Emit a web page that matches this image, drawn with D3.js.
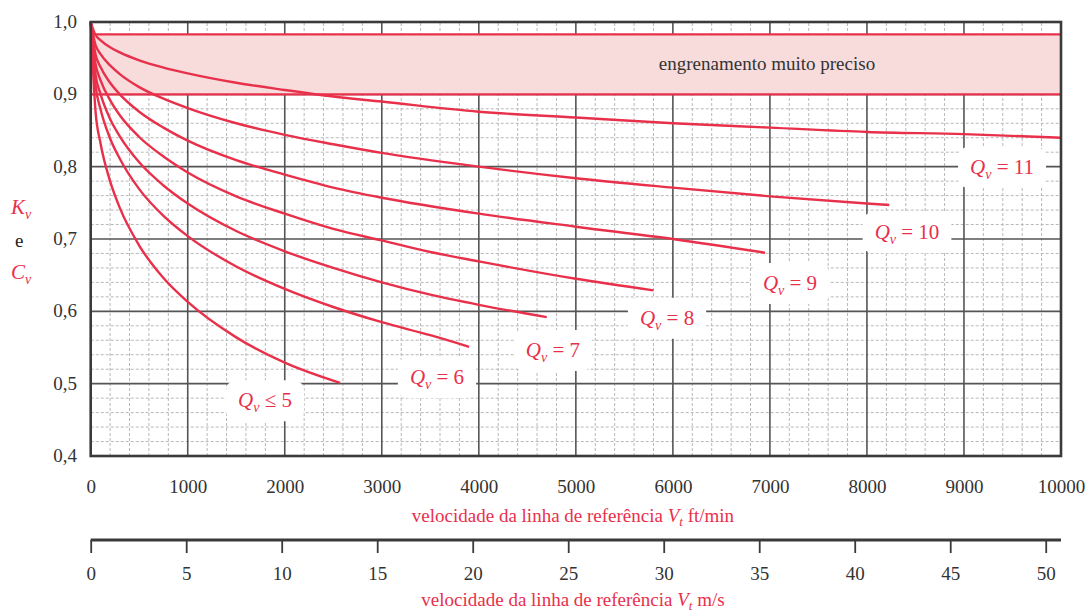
<!DOCTYPE html>
<html><head><meta charset="utf-8">
<script src="https://cdn.jsdelivr.net/npm/d3@7"></script>
<style>
body{margin:0;background:#fff;}
svg text{font-family:"Liberation Serif","DejaVu Serif","Times New Roman",serif !important;}
</style></head>
<body><svg id="c" width="1089" height="613" font-family="Liberation Serif, DejaVu Serif, serif"></svg>
<script>
// ---- data ----
const xTicksFt = [0,1000,2000,3000,4000,5000,6000,7000,8000,9000,10000];
const xTicksMs = [0,5,10,15,20,25,30,35,40,45,50];
const yTicks = [0.4,0.5,0.6,0.7,0.8,0.9,1.0];
const yTickLabels = ["0,4","0,5","0,6","0,7","0,8","0,9","1,0"];
const qualities = ["≤ 5","= 6","= 7","= 8","= 9","= 10","= 11"];
const vQ5  = [0,50,100,200,300,500,750,1000,1500,2000,2570];
const kQ5  = [1.0,0.876,0.833,0.780,0.743,0.691,0.646,0.613,0.564,0.529,0.501];
const vQ6  = [0,50,100,200,300,500,750,1000,1500,2000,2500,3000,3500,3900];
const kQ6  = [1.0,0.912,0.880,0.839,0.811,0.769,0.732,0.704,0.662,0.631,0.606,0.585,0.567,0.551];
const vQ7  = [0,50,100,200,300,500,750,1000,1500,2000,2500,3000,3500,4000,4700];
const kQ7  = [1.0,0.927,0.901,0.866,0.842,0.806,0.774,0.749,0.711,0.683,0.660,0.640,0.623,0.609,0.592];
const vQ8  = [0,50,100,200,300,500,750,1000,1500,2000,2500,3000,3500,4000,5000,5800];
const kQ8  = [1.0,0.942,0.920,0.892,0.871,0.841,0.814,0.792,0.759,0.735,0.714,0.698,0.682,0.669,0.645,0.629];
const vQ9  = [0,50,100,200,300,500,750,1000,1500,2000,2500,3000,4000,5000,6000,6950];
const kQ9  = [1.0,0.955,0.938,0.916,0.900,0.876,0.854,0.836,0.809,0.789,0.771,0.757,0.735,0.717,0.700,0.681];
const vQ10 = [0,50,100,200,300,500,750,1000,1500,2000,2500,3000,4000,5000,6000,7000,8000,8230];
const kQ10 = [1.0,0.968,0.956,0.940,0.928,0.910,0.894,0.881,0.860,0.844,0.831,0.819,0.800,0.784,0.771,0.759,0.749,0.747];
const vQ11 = [0,50,100,200,300,500,750,1000,1500,2000,2500,3000,4000,5000,6000,7000,8000,9000,10000];
const kQ11 = [1.0,0.982,0.975,0.965,0.958,0.947,0.937,0.929,0.916,0.906,0.897,0.890,0.876,0.868,0.860,0.854,0.848,0.845,0.840];
const bandRange = [0.9, 0.983];
const bandLabel = "engrenamento muito preciso";
// label anchors in data units (ft/min, K)
const labelV = [1796,3569,4764,5940,7207,8413,9392];
const labelK = [0.477,0.509,0.5465,0.591,0.639,0.7095,0.7995];

const curves = [[vQ5,kQ5],[vQ6,kQ6],[vQ7,kQ7],[vQ8,kQ8],[vQ9,kQ9],[vQ10,kQ10],[vQ11,kQ11]];

// ---- drawing ----
const RED = "#e8304b", DARK = "#3a3a3a", SERIF = "Liberation Serif, DejaVu Serif, serif";
const svg = d3.select("#c");
const x = d3.scaleLinear().domain([0,10000]).range([90.7,1061]);
const y = d3.scaleLinear().domain([0.4,1.0]).range([456,22]);
const xMs = d3.scaleLinear().domain([0,10000/196.85]).range([90.7,1061]);

// minor grid
const g = svg.append("g");
g.selectAll("line.mx").data(d3.range(0,10001,200).filter(v=>v%1000!==0)).join("line")
  .attr("x1",d=>x(d)).attr("x2",d=>x(d)).attr("y1",y(0.4)).attr("y2",y(1.0))
  .attr("stroke","#b8b8b8").attr("stroke-width",1).attr("stroke-dasharray","3,2");
g.selectAll("line.my").data(d3.range(0,31).map(i=>0.4+i*0.02).filter((v,i)=>i%5!==0)).join("line")
  .attr("y1",d=>y(d)).attr("y2",d=>y(d)).attr("x1",x(0)).attr("x2",x(10000))
  .attr("stroke","#b8b8b8").attr("stroke-width",1).attr("stroke-dasharray","3,2");
// major grid
g.selectAll("line.Mx").data(xTicksFt.slice(1,-1)).join("line")
  .attr("x1",d=>x(d)).attr("x2",d=>x(d)).attr("y1",y(0.4)).attr("y2",y(1.0))
  .attr("stroke","#555").attr("stroke-width",1.6);
g.selectAll("line.My").data(yTicks.slice(1,-1)).join("line")
  .attr("y1",d=>y(d)).attr("y2",d=>y(d)).attr("x1",x(0)).attr("x2",x(10000))
  .attr("stroke","#555").attr("stroke-width",1.6);

// band
svg.append("rect").attr("x",x(0)).attr("width",x(10000)-x(0))
  .attr("y",y(bandRange[1])).attr("height",y(bandRange[0])-y(bandRange[1]))
  .attr("fill","#f7dcdb");
bandRange.forEach(b=>svg.append("line").attr("x1",x(0)).attr("x2",x(10000))
  .attr("y1",y(b)).attr("y2",y(b)).attr("stroke",RED).attr("stroke-width",2.2));
svg.append("text").attr("x",x(6970)).attr("y",y(0.9415)+6).attr("text-anchor","middle")
  .attr("font-family",SERIF).attr("font-size",19).attr("fill","#333").text(bandLabel);

// label knockouts + text
const labG = svg.append("g");
const labels = qualities.map((q,i)=>({q, vx:x(labelV[i]), vy:y(labelK[i])}));
labels.forEach(L=>{
  const t = labG.append("text").attr("x",L.vx).attr("y",L.vy+7).attr("text-anchor","middle")
    .attr("font-family",SERIF).attr("font-size",21).attr("fill",RED);
  t.append("tspan").attr("font-style","italic").text("Q");
  t.append("tspan").attr("font-style","italic").attr("font-size",14).attr("dy",5).text("v");
  t.append("tspan").attr("dy",-5).text(" "+L.q);
  const bb = t.node().getBBox();
  labG.insert("rect","text").attr("x",bb.x-12).attr("y",bb.y-8).attr("width",bb.width+24)
    .attr("height",bb.height+14).attr("rx",10).attr("fill","#fff");
});

// curves
const line = d3.line().x(d=>x(d[0])).y(d=>y(d[1])).curve(d3.curveMonotoneX);
svg.append("g").selectAll("path").data(curves).join("path")
  .attr("d",c=>line(c[0].map((v,i)=>[v,c[1][i]])))
  .attr("fill","none").attr("stroke",RED).attr("stroke-width",2.4);
svg.node().appendChild(labG.node());

// frame
svg.append("rect").attr("x",x(0)).attr("y",y(1.0)).attr("width",x(10000)-x(0))
  .attr("height",y(0.4)-y(1.0)).attr("fill","none").attr("stroke",DARK).attr("stroke-width",2.6);

// y ticks
svg.append("g").selectAll("text").data(yTicks).join("text")
  .attr("x",77).attr("y",d=>y(d)+6).attr("text-anchor","end").attr("font-family",SERIF)
  .attr("font-size",19).attr("fill","#333")
  .text((d,i)=>yTickLabels[i]);
// x ft/min ticks
const xAx = svg.append("g").attr("transform",`translate(0,${y(0.4)})`)
  .call(d3.axisBottom(x).tickValues(xTicksFt).tickSize(0).tickPadding(24).tickFormat(d3.format("d")));
xAx.select(".domain").remove();
xAx.selectAll("text").attr("font-size",19).attr("fill","#333").attr("font-family",SERIF);

// y title
const yt = svg.append("g").attr("fill",RED).attr("font-size",21).attr("font-family",SERIF);
const kv = yt.append("text").attr("x",11).attr("y",214).attr("font-style","italic");
kv.append("tspan").text("K"); kv.append("tspan").attr("font-size",14).attr("dy",5).text("v");
yt.append("text").attr("x",15).attr("y",247).attr("fill","#222").attr("font-size",19).text("e");
const cv = yt.append("text").attr("x",11).attr("y",279).attr("font-style","italic");
cv.append("tspan").text("C"); cv.append("tspan").attr("font-size",14).attr("dy",5).text("v");

function title(ypos, unit){
  const t = svg.append("text").attr("x",573).attr("y",ypos).attr("text-anchor","middle")
    .attr("font-family",SERIF).attr("font-size",19).attr("fill",RED);
  t.append("tspan").text("velocidade da linha de referência ");
  t.append("tspan").attr("font-style","italic").text("V");
  t.append("tspan").attr("font-style","italic").attr("font-size",13).attr("dy",4).text("t");
  t.append("tspan").attr("dy",-4).text(" "+unit);
}
title(522,"ft/min");

// m/s axis
const msAx = svg.append("g").attr("transform","translate(0,540)")
  .call(d3.axisBottom(xMs).tickValues(xTicksMs).tickSize(13).tickPadding(14).tickFormat(d3.format("d")));
msAx.select(".domain").attr("d",`M${x(0)},0H${x(10000)}`).attr("stroke",DARK).attr("stroke-width",3);
msAx.selectAll(".tick line").attr("stroke",DARK).attr("stroke-width",1.8);
msAx.selectAll("text").attr("font-size",19).attr("fill","#333").attr("font-family",SERIF);
title(606,"m/s");
</script></body></html>
